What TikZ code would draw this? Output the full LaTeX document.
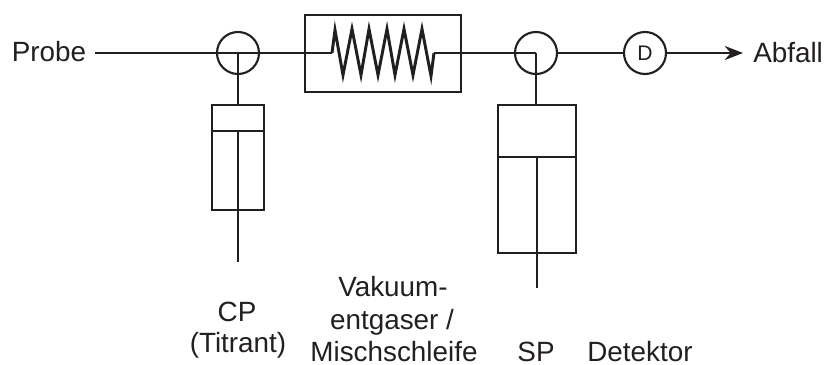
\documentclass[tikz,border=0pt]{standalone}
\usepackage{fontspec}
\setmainfont{Liberation Sans}
\usetikzlibrary{arrows.meta}
\definecolor{ink}{HTML}{231F20}
\tikzset{
  line/.style={draw=ink, line width=1.5pt},
  valve/.style={circle, line, minimum size=1.05cm, inner sep=0pt, font=\fontsize{15}{17}\selectfont, text=ink},
  housing/.style={rectangle, line, inner sep=0pt},
  label/.style={font=\fontsize{19.8}{23}\selectfont, text=ink, inner sep=0pt, anchor=base}
}
\begin{document}
\begin{tikzpicture}[x=0.025cm, y=-0.025cm]
    \useasboundingbox (0,0) rectangle (824,365);
    % labels
    \node[label] (probe) at (49,62) {Probe};
    \node[label, anchor=base west] (abfall) at (753,62.5) {Abfall};
    \node[label] (cp) at (237,322) {CP};
    \node[label] (titrant) at (238,353) {(Titrant)};
    \node[label] (vakuum) at (393,297) {Vakuum-};
    \node[label] (entgaser) at (392,330) {entgaser /};
    \node[label] (misch) at (394,362) {Mischschleife};
    \node[label] (sp) at (536,362) {SP};
    \node[label] (detektor) at (640,362) {Detektor};
    % valves, detector
    \node[valve] (v1) at (238,53) {};
    \node[valve] (v2) at (536,53) {};
    \node[valve] (det) at (645,53) {D};
    % loop housing
    \node[housing, minimum width=3.9cm, minimum height=1.925cm] (loop) at (383,53.5) {};
    % syringes
    \node[housing, minimum width=1.3cm, minimum height=2.625cm] (cpbody) at (238,157.5) {};
    \node[housing, minimum width=1.95cm, minimum height=3.7cm] (spbody) at (537,179) {};
    \coordinate (pin) at (95,53);
    \coordinate (cl) at (332,53);
    \coordinate (cr) at (434,53);
    \coordinate (out) at (743,53);
    \coordinate (cpsep) at (238,131);
    \coordinate (cpend) at (238,262);
    \coordinate (spsep) at (537,157);
    \coordinate (spend) at (537,288);
    % flow line
    \draw[line] (pin) -- (cl);
    \draw[draw=ink, line width=2.1pt, line join=miter, miter limit=10] (cl) -- (335,30) -- (343,75) -- (352,29) -- (361,75) -- (369,29) -- (378,75) -- (387,29) -- (395,75) -- (404,29) -- (413,75) -- (422,29) -- (431,76) -- (cr);
    \draw[line] (cr) -- (v2.center);
    \draw[line] (v2.east) -- (det);
    \draw[line, -{Stealth[length=13pt, width=10pt]}] (det) -- (out);
    % plungers
    \draw[line] (v1.center) -- (cpbody.north);
    \draw[line] (v2.center) -- (v2.center |- spbody.north);
    \draw[line] (cpbody.west |- cpsep) -- (cpbody.east |- cpsep);
    \draw[line] (spbody.west |- spsep) -- (spbody.east |- spsep);
    \draw[line] (cpsep) -- (cpend);
    \draw[line] (spsep) -- (spend);
\end{tikzpicture}
\end{document}
